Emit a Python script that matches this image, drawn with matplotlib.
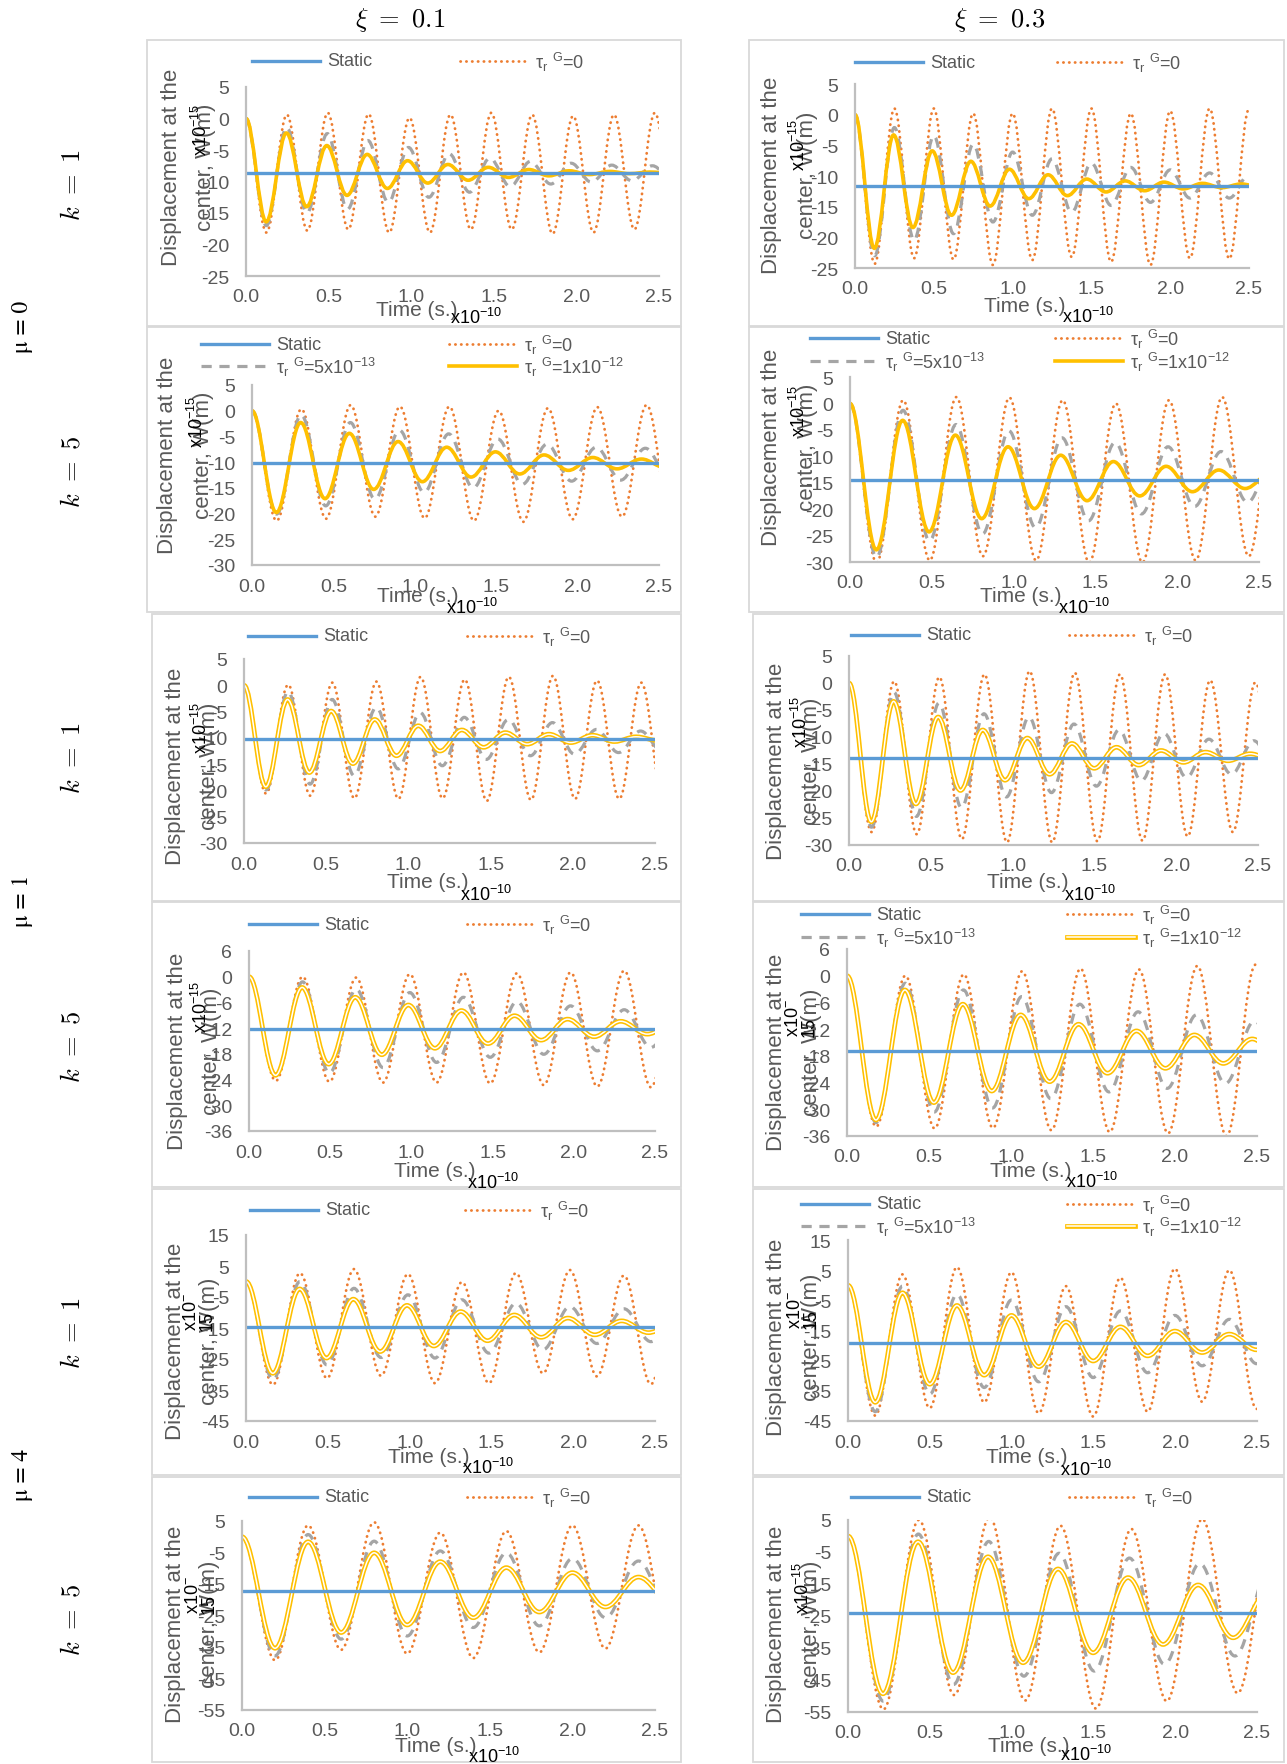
import matplotlib
matplotlib.use("Agg")
import matplotlib.pyplot as plt
from matplotlib.path import Path
from matplotlib.patches import PathPatch, Rectangle
from matplotlib.lines import Line2D

W, H = 1287, 1765

plt.rcParams['font.family'] = ['Liberation Sans', 'DejaVu Sans']
plt.rcParams['mathtext.fontset'] = 'custom'
plt.rcParams['mathtext.rm'] = 'Liberation Sans'
plt.rcParams['mathtext.it'] = 'Liberation Sans:italic'
plt.rcParams['mathtext.bf'] = 'Liberation Sans:bold'

# ---------------- data (W in x10^-15 m, time in x10^-10 s) ----------------
# every curve starts at 0 and then alternates trough / peak;
# period = spacing of two troughs, lo = troughs, hi = peaks
start_value = 0.0
time_range = [0.0, 2.5]

# mu=0, k=1, xi=0.1
p11_static = -8.7
p11_period = [0.2475, 0.246, 0.2445]
p11_t0_lo = [-18.1, -17.8, -17.6, -18.1, -18.1, -17.6, -17.6, -18.3, -18.1, -17.6, -18.0]
p11_t0_hi = [0.6, 0.9, 0.7, 0.1, 0.6, 0.9, 0.6, 0.4, 0.6, 0.9]
p11_t1_lo = [-17.0, -15.0, -14.4, -13.3, -12.5, -11.7, -10.8, -10.4, -10.1, -9.9, -9.8]
p11_t1_hi = [-1.4, -2.4, -3.5, -4.6, -5.6, -6.3, -6.8, -7.1, -7.4, -7.5]
p11_t2_lo = [-16.4, -14.0, -12.2, -11.1, -10.25, -9.8, -9.35, -9.1, -8.9, -8.75, -8.7]
p11_t2_hi = [-2.3, -4.3, -5.7, -6.7, -7.3, -7.75, -8.1, -8.3, -8.4, -8.5]

# mu=0, k=1, xi=0.3
p12_static = -11.65
p12_period = [0.25, 0.25, 0.245]
p12_t0_lo = [-24.3, -23.4, -23.6, -24.5, -23.7, -23.2, -24.0, -24.5, -23.4, -23.5, -24.0]
p12_t0_hi = [1.0, 1.0, 0.2, 0.2, 1.0, 1.0, 0.2, 0.6, 1.0, 0.9]
p12_t1_lo = [-23.0, -20.5, -19.4, -17.5, -16.4, -15.9, -14.8, -14.3, -13.6, -13.6, -13.4]
p12_t1_hi = [-2.1, -3.4, -4.8, -6.1, -7.2, -7.9, -8.6, -9.0, -9.5, -9.8]
p12_t2_lo = [-21.8, -18.4, -16.4, -14.9, -13.7, -13.2, -12.6, -12.4, -12.1, -11.9, -11.8]
p12_t2_hi = [-3.3, -5.9, -7.6, -8.9, -9.8, -10.5, -10.8, -11.0, -11.2, -11.3]

# mu=0, k=5, xi=0.1
p21_static = -10.2
p21_period = [0.303, 0.302, 0.299]
p21_t0_lo = [-21.4, -21.0, -20.6, -20.9, -21.4, -21.6, -21.1, -20.6, -21.0]
p21_t0_hi = [0.3, 1.1, 0.8, 0.8, 0.0, 0.5, 0.7, 1.1]
p21_t1_lo = [-20.1, -18.5, -17.2, -15.9, -15.0, -14.3, -13.7, -13.5, -13.3]
p21_t1_hi = [-0.8, -2.3, -3.8, -4.5, -5.5, -6.5, -7.1, -7.3]
p21_t2_lo = [-19.8, -17.1, -15.3, -13.8, -12.9, -12.3, -11.6, -11.3, -11.1]
p21_t2_hi = [-2.3, -4.4, -6.0, -7.1, -8.0, -8.6, -9.1, -9.4]

# mu=0, k=5, xi=0.3
p22_static = -14.5
p22_period = [0.325, 0.324, 0.322]
p22_t0_lo = [-30.1, -29.7, -28.9, -29.7, -30.1, -30.1, -29.7, -28.9]
p22_t0_hi = [0.6, 1.2, 1.1, 0.6, 0.0, 0.6, 1.2, 0.6]
p22_t1_lo = [-29.1, -26.0, -24.7, -23.5, -22.2, -20.9, -19.5, -18.7]
p22_t1_hi = [-1.3, -4.0, -5.2, -6.5, -7.4, -8.2, -9.1, -9.8]
p22_t2_lo = [-27.7, -24.3, -21.8, -19.9, -18.4, -17.5, -16.7, -16.1]
p22_t2_hi = [-3.2, -6.0, -8.2, -9.8, -11.0, -11.9, -12.6, -13.1]

# mu=1, k=1, xi=0.1
p31_static = -10.25
p31_period = [0.2685, 0.268, 0.265]
p31_t0_lo = [-20.6, -21.0, -21.5, -21.6, -21.5, -22.0, -21.8, -21.6, -21.6, -21.5]
p31_t0_hi = [0.1, 0.5, 0.7, 1.6, 1.1, 1.6, 1.8, 0.9, 0.5]
p31_t1_lo = [-19.9, -18.8, -17.2, -15.9, -15.3, -14.1, -13.4, -13.1, -12.8, -12.6]
p31_t1_hi = [-1.2, -2.7, -4.2, -5.2, -6.1, -6.5, -7.1, -8.4, -8.7]
p31_t2_lo = [-19.3, -16.6, -14.9, -13.4, -12.5, -11.8, -11.2, -10.9, -10.7, -10.5]
p31_t2_hi = [-2.7, -4.9, -6.5, -7.7, -8.5, -9.0, -9.3, -9.5, -9.8]

# mu=1, k=1, xi=0.3
p32_static = -13.8
p32_period = [0.276, 0.275, 0.2725]
p32_t0_lo = [-27.6, -28.0, -28.9, -29.5, -29.5, -29.3, -29.2, -28.4, -27.6, -28.0]
p32_t0_hi = [0.3, 1.1, 1.6, 2.2, 1.9, 1.6, 1.6, 0.5, 0.1]
p32_t1_lo = [-26.7, -24.7, -23.1, -21.1, -20.3, -19.1, -18.1, -17.5, -16.9, -16.5]
p32_t1_hi = [-1.7, -3.7, -5.7, -6.3, -7.6, -8.7, -9.3, -10.4, -10.7]
p32_t2_lo = [-25.7, -22.4, -19.9, -18.0, -16.9, -15.8, -15.2, -14.7, -14.4, -14.2]
p32_t2_hi = [-3.4, -6.3, -8.7, -10.2, -11.2, -11.9, -12.5, -12.8, -13.1]

# mu=1, k=5, xi=0.1
p41_static = -12.2
p41_period = [0.33, 0.33, 0.327]
p41_t0_lo = [-24.3, -24.5, -24.7, -24.7, -24.9, -25.3, -25.6, -25.8]
p41_t0_hi = [0.0, -0.2, 0.6, 1.0, 0.8, 1.0, 1.4, 1.2]
p41_t1_lo = [-23.1, -22.5, -21.2, -20.0, -18.8, -18.1, -17.3, -16.5]
p41_t1_hi = [-1.2, -2.9, -3.7, -4.8, -5.8, -6.8, -7.7, -8.4]
p41_t2_lo = [-23.0, -20.4, -18.2, -16.7, -15.6, -14.8, -14.0, -13.4]
p41_t2_hi = [-2.5, -4.8, -6.6, -7.9, -9.1, -9.9, -10.4, -10.8]

# mu=1, k=5, xi=0.3
p42_static = -16.8
p42_period = [0.356, 0.355, 0.353]
p42_t0_lo = [-33.9, -34.3, -34.2, -34.7, -35.1, -35.4, -36.0, -35.5]
p42_t0_hi = [0.0, 0.3, 1.0, 1.6, 1.4, 2.2, 2.5]
p42_t1_lo = [-33.0, -30.6, -29.7, -27.6, -26.1, -25.3, -24.2, -23.5]
p42_t1_hi = [-1.7, -3.2, -4.7, -6.4, -8.1, -8.8, -10.2]
p42_t2_lo = [-32.4, -28.5, -25.9, -23.8, -21.9, -20.8, -19.7, -19.0]
p42_t2_hi = [-3.2, -6.4, -8.8, -10.9, -12.4, -13.3, -14.2]

# mu=4, k=1, xi=0.1
p51_static = -14.8
p51_period = [0.33, 0.33, 0.328]
p51_t0_lo = [-33.3, -31.2, -30.4, -32.8, -32.8, -29.6, -30.6, -33.1]
p51_t0_hi = [2.7, 4.0, 2.4, -0.2, 2.7, 3.7, 1.9, 3.0]
p51_t1_lo = [-31.7, -26.9, -24.5, -24.7, -23.1, -22.0, -20.0, -19.4]
p51_t1_hi = [0.0, -2.2, -4.3, -5.9, -7.0, -8.1, -8.8, -9.3]
p51_t2_lo = [-29.6, -24.7, -22.6, -20.8, -19.1, -18.0, -17.2, -16.5]
p51_t2_hi = [-2.4, -5.7, -7.7, -9.7, -10.8, -11.8, -12.7, -13.3]

# mu=4, k=1, xi=0.3
p52_static = -19.1
p52_period = [0.333, 0.333, 0.333]
p52_t0_lo = [-43.2, -40.7, -38.8, -42.4, -43.5, -41.9, -38.6, -41.0]
p52_t0_hi = [3.6, 6.0, 4.3, -0.3, 2.5, 5.5, 5.0, 4.0]
p52_t1_lo = [-41.9, -36.1, -33.9, -32.0, -30.6, -29.0, -26.7, -26.0]
p52_t1_hi = [-0.3, -3.0, -4.9, -7.1, -8.5, -10.0, -11.3, -12.3]
p52_t2_lo = [-38.8, -32.8, -29.8, -27.0, -25.1, -23.4, -22.3, -21.4]
p52_t2_hi = [-2.5, -6.7, -10.0, -12.2, -13.8, -15.2, -16.2, -17.0]

# mu=4, k=5, xi=0.1
p61_static = -17.2
p61_period = [0.40, 0.40, 0.40]
p61_t0_lo = [-39.2, -35.9, -37.1, -38.5, -36.7, -35.5, -36.5]
p61_t0_hi = [3.6, 4.6, 1.3, 1.8, 3.6, 3.6]
p61_t1_lo = [-37.8, -32.5, -31.5, -28.8, -28.3, -25.7, -25.5]
p61_t1_hi = [0.7, -1.4, -4.5, -5.1, -6.9, -7.7]
p61_t2_lo = [-35.4, -30.4, -28.0, -25.7, -23.9, -22.3, -21.0]
p61_t2_hi = [-1.6, -5.1, -7.9, -9.8, -11.4, -12.8]

# mu=4, k=5, xi=0.3
p62_static = -24.1
p62_period = [0.433, 0.43, 0.428]
p62_t0_lo = [-54.2, -49.7, -51.4, -53.9, -51.6, -49.1]
p62_t0_hi = [5.0, 5.9, 3.2, 2.2, 5.3, 3.0]
p62_t1_lo = [-51.6, -46.4, -43.8, -42.2, -40.1, -37.5]
p62_t1_hi = [0.6, -1.7, -5.4, -6.9, -8.6, -10.0]
p62_t2_lo = [-49.3, -42.7, -39.6, -36.5, -33.9, -31.8]
p62_t2_hi = [-1.8, -6.5, -10.3, -13.0, -15.3, -17.5]

xticks = [0.0, 0.5, 1.0, 1.5, 2.0, 2.5]
xtick_labels = ['0.0', '0.5', '1.0', '1.5', '2.0', '2.5']
yticks_a = [-25, -20, -15, -10, -5, 0, 5]
yticks_b = [-30, -25, -20, -15, -10, -5, 0, 5]
yticks_c = [-36, -30, -24, -18, -12, -6, 0, 6]
yticks_d = [-45, -35, -25, -15, -5, 5, 15]
yticks_e = [-55, -45, -35, -25, -15, -5, 5]

col_titles = [r'$\xi\ =\ 0.1$', r'$\xi\ =\ 0.3$']
k_labels = [r'$k\ =\ 1$', r'$k\ =\ 5$', r'$k\ =\ 1$', r'$k\ =\ 5$', r'$k\ =\ 1$', r'$k\ =\ 5$']
mu_labels = ['μ = 0', 'μ = 1', 'μ = 4']
series_labels = ['Static',
                 'τ$_{\\mathrm{r}}$ $^{\\mathrm{G}}$=0',
                 'τ$_{\\mathrm{r}}$ $^{\\mathrm{G}}$=5x10$^{-13}$',
                 'τ$_{\\mathrm{r}}$ $^{\\mathrm{G}}$=1x10$^{-12}$']

panels = [
    (p11_static, p11_period, [(p11_t0_lo, p11_t0_hi), (p11_t1_lo, p11_t1_hi), (p11_t2_lo, p11_t2_hi)], yticks_a),
    (p12_static, p12_period, [(p12_t0_lo, p12_t0_hi), (p12_t1_lo, p12_t1_hi), (p12_t2_lo, p12_t2_hi)], yticks_a),
    (p21_static, p21_period, [(p21_t0_lo, p21_t0_hi), (p21_t1_lo, p21_t1_hi), (p21_t2_lo, p21_t2_hi)], yticks_b),
    (p22_static, p22_period, [(p22_t0_lo, p22_t0_hi), (p22_t1_lo, p22_t1_hi), (p22_t2_lo, p22_t2_hi)], yticks_b),
    (p31_static, p31_period, [(p31_t0_lo, p31_t0_hi), (p31_t1_lo, p31_t1_hi), (p31_t2_lo, p31_t2_hi)], yticks_b),
    (p32_static, p32_period, [(p32_t0_lo, p32_t0_hi), (p32_t1_lo, p32_t1_hi), (p32_t2_lo, p32_t2_hi)], yticks_b),
    (p41_static, p41_period, [(p41_t0_lo, p41_t0_hi), (p41_t1_lo, p41_t1_hi), (p41_t2_lo, p41_t2_hi)], yticks_c),
    (p42_static, p42_period, [(p42_t0_lo, p42_t0_hi), (p42_t1_lo, p42_t1_hi), (p42_t2_lo, p42_t2_hi)], yticks_c),
    (p51_static, p51_period, [(p51_t0_lo, p51_t0_hi), (p51_t1_lo, p51_t1_hi), (p51_t2_lo, p51_t2_hi)], yticks_d),
    (p52_static, p52_period, [(p52_t0_lo, p52_t0_hi), (p52_t1_lo, p52_t1_hi), (p52_t2_lo, p52_t2_hi)], yticks_d),
    (p61_static, p61_period, [(p61_t0_lo, p61_t0_hi), (p61_t1_lo, p61_t1_hi), (p61_t2_lo, p61_t2_hi)], yticks_e),
    (p62_static, p62_period, [(p62_t0_lo, p62_t0_hi), (p62_t1_lo, p62_t1_hi), (p62_t2_lo, p62_t2_hi)], yticks_e),
]

# ---------------- layout (pixels of the 1287x1765 picture) ----------------
# ax (l, r, t, b), frame (l, r, t, b), legend (y1, y2, x1, x2),
# ylabel (x line1, x line2, cy, x10 x, x10 y, wrapped), xlabel (x, y, x10 x, x10 y)
layout = [
    ((246, 659, 88, 277), (147, 681, 41, 327), (62, None, 252, 460), (171, 206, 167, 201, 130, False), (417, 310, 476, 318)),
    ((855, 1249, 85, 269), (749, 1284, 41, 327), (63, None, 855, 1057), (772, 807, 175, 799, 145, False), (1025, 307, 1088, 317)),
    ((252, 659, 386, 566), (147, 681, 328, 613), (345, 367, 201, 449), (168, 204, 455, 197, 422, False), (418, 597, 472, 608)),
    ((850, 1259, 378, 563), (749, 1284, 328, 613), (339, 362, 810, 1055), (772, 807, 447, 799, 411, False), (1021, 597, 1084, 608)),
    ((244, 655, 660, 844), (152, 681, 615, 902), (637, None, 248, 467), (175, 210, 766, 201, 728, False), (428, 883, 486, 895)),
    ((849, 1258, 657, 846), (753, 1284, 615, 902), (636, None, 851, 1069), (776, 812, 761, 801, 722, False), (1028, 883, 1090, 895)),
    ((249, 655, 952, 1132), (152, 681, 903, 1188), (925, None, 249, 467), (177, 212, 1051, 201, 1007, False), (435, 1172, 493, 1183)),
    ((847, 1257, 950, 1137), (753, 1284, 903, 1188), (915, 938, 801, 1067), (776, 811, 1052, 801, 1018, True), (1031, 1172, 1092, 1182)),
    ((246, 655, 1236, 1422), (152, 681, 1190, 1476), (1211, None, 250, 465), (175, 210, 1341, 199, 1312, True), (429, 1458, 488, 1468)),
    ((848, 1257, 1241, 1422), (753, 1284, 1190, 1476), (1205, 1227, 801, 1067), (776, 811, 1337, 803, 1310, True), (1027, 1458, 1086, 1470)),
    ((242, 655, 1522, 1711), (152, 681, 1478, 1763), (1498, None, 249, 467), (175, 210, 1624, 201, 1595, True), (436, 1747, 494, 1757)),
    ((848, 1257, 1521, 1713), (753, 1284, 1478, 1763), (1498, None, 851, 1069), (776, 811, 1624, 803, 1588, False), (1029, 1747, 1086, 1755)),
]

C_BLUE = '#5B9BD5'
C_ORANGE = '#ED7D31'
C_GRAY = '#A5A5A5'
C_YELLOW = '#FFC000'
C_TEXT = '#595959'
C_AXIS = '#BFBFBF'
C_FRAME = '#D9D9D9'

DOT = (0, (0.1, 2.0))
DASH = (0, (3.2, 2.4))


def fx(x):
    return x / W


def fy(y):
    return 1 - y / H


def wave(ax, period, lows, highs, **kw):
    # smooth arcs (cubic bezier) through the read extrema
    half = period / 2.0
    c = 0.3634 * half
    vals = []
    for i in range(len(lows) + len(highs)):
        vals.append(lows[i // 2] if i % 2 == 0 else highs[i // 2])
    verts = [(0.0, start_value)]
    codes = [Path.MOVETO]
    tp, vp = 0.0, start_value
    for k, v in enumerate(vals, start=1):
        t = k * half
        verts += [(tp + c, vp), (t - c, v), (t, v)]
        codes += [Path.CURVE4] * 3
        tp, vp = t, v
    ax.add_patch(PathPatch(Path(verts, codes), fill=False, **kw))


def key(fig, x, y, kind, double):
    xs = [fx(x), fx(x + 68)]
    ys = [fy(y), fy(y)]
    if kind == 0:
        fig.add_artist(Line2D(xs, ys, transform=fig.transFigure, color=C_BLUE, lw=2.4))
    elif kind == 1:
        fig.add_artist(Line2D(xs, ys, transform=fig.transFigure, color=C_ORANGE, lw=2.0,
                              linestyle=DOT, dash_capstyle='round'))
    elif kind == 2:
        fig.add_artist(Line2D(xs, ys, transform=fig.transFigure, color=C_GRAY, lw=2.3,
                              linestyle=DASH, dash_capstyle='butt'))
    else:
        if double:
            fig.add_artist(Line2D(xs, ys, transform=fig.transFigure, color=C_YELLOW, lw=3.4))
            fig.add_artist(Line2D(xs, ys, transform=fig.transFigure, color='white', lw=1.1))
        else:
            fig.add_artist(Line2D(xs, ys, transform=fig.transFigure, color=C_YELLOW, lw=2.6))
    fig.text(fx(x + 75), fy(y), series_labels[kind], fontsize=13, color=C_TEXT,
             ha='left', va='center')


fig = plt.figure(figsize=(W / 100, H / 100), dpi=100)

for i, (panel, lay) in enumerate(zip(panels, layout)):
    static, period, curves, yt = panel
    (al, ar, at, ab), (frl, frr, frt, frb), leg, ylab, xlab = lay
    double = i >= 4

    fig.add_artist(Rectangle((fx(frl), fy(frb)), (frr - frl) / W, (frb - frt) / H,
                             transform=fig.transFigure, fill=False, ec=C_FRAME, lw=1.3))

    ax = fig.add_axes([fx(al), fy(ab), (ar - al) / W, (ab - at) / H])
    ax.patch.set_alpha(0)
    ax.plot(time_range, [static, static], color=C_BLUE, lw=2.4, solid_capstyle='butt')
    wave(ax, period[0], *curves[0], edgecolor=C_ORANGE, lw=2.0, linestyle=DOT, capstyle='round')
    wave(ax, period[1], *curves[1], edgecolor=C_GRAY, lw=2.3, linestyle=DASH, capstyle='butt')
    if double:
        wave(ax, period[2], *curves[2], edgecolor=C_YELLOW, lw=3.4, joinstyle='round')
        wave(ax, period[2], *curves[2], edgecolor='white', lw=1.1, joinstyle='round')
    else:
        wave(ax, period[2], *curves[2], edgecolor=C_YELLOW, lw=2.6, joinstyle='round')

    ax.set_xlim(time_range[0], time_range[1])
    ax.set_ylim(yt[0], yt[-1])
    ax.set_xticks(xticks, xtick_labels)
    ax.set_yticks(yt, [str(v) for v in yt])
    for s in ['top', 'right']:
        ax.spines[s].set_visible(False)
    for s in ['left', 'bottom']:
        ax.spines[s].set_color(C_AXIS)
        ax.spines[s].set_linewidth(1.6)
    ax.tick_params(length=0, labelsize=14, labelcolor=C_TEXT)
    ax.tick_params(axis='y', pad=12)
    ax.tick_params(axis='x', pad=9)

    # legend (Excel keeps only the rows that fit)
    y1, y2, x1, x2 = leg
    key(fig, x1, y1, 0, double)
    key(fig, x2, y1, 1, double)
    if y2 is not None:
        key(fig, x1, y2, 2, double)
        key(fig, x2, y2, 3, double)

    # axis titles
    l1, l2, cy, ex, ey, wrapped = ylab
    fig.text(fx(l1), fy(cy), 'Displacement at the', rotation=90, fontsize=16,
             color=C_TEXT, ha='center', va='center')
    fig.text(fx(l2), fy(cy), 'center, W(m)', rotation=90, fontsize=16,
             color=C_TEXT, ha='center', va='center')
    if wrapped:
        fig.text(fx(ex), fy(ey), 'x10$^{-}$\n15', rotation=90, fontsize=13,
                 color='black', ha='center', va='center', multialignment='left',
                 linespacing=0.9)
    else:
        fig.text(fx(ex), fy(ey), 'x10$^{-15}$', rotation=90, fontsize=13,
                 color='black', ha='center', va='center')
    tx, ty, qx, qy = xlab
    fig.text(fx(tx), fy(ty), 'Time (s.)', fontsize=15, color=C_TEXT, ha='center', va='center')
    fig.text(fx(qx), fy(qy), 'x10$^{-10}$', fontsize=13, color='black', ha='center', va='center')

# row / column headings
fig.text(fx(400), fy(20), col_titles[0], fontsize=19, math_fontfamily='cm', ha='center', va='center')
fig.text(fx(1000), fy(20), col_titles[1], fontsize=19, math_fontfamily='cm', ha='center', va='center')
for lab, y in zip(k_labels, [185, 472, 758, 1047, 1333, 1620]):
    fig.text(fx(73), fy(y), lab, fontsize=19, math_fontfamily='cm', rotation=90,
             ha='center', va='center')
for lab, y in zip(mu_labels, [327, 901, 1475]):
    fig.text(fx(22), fy(y), lab, fontsize=17, family=['STIXGeneral', 'DejaVu Serif'],
             rotation=90, ha='center', va='center')

fig.savefig('out.png', dpi=100, facecolor='white')
